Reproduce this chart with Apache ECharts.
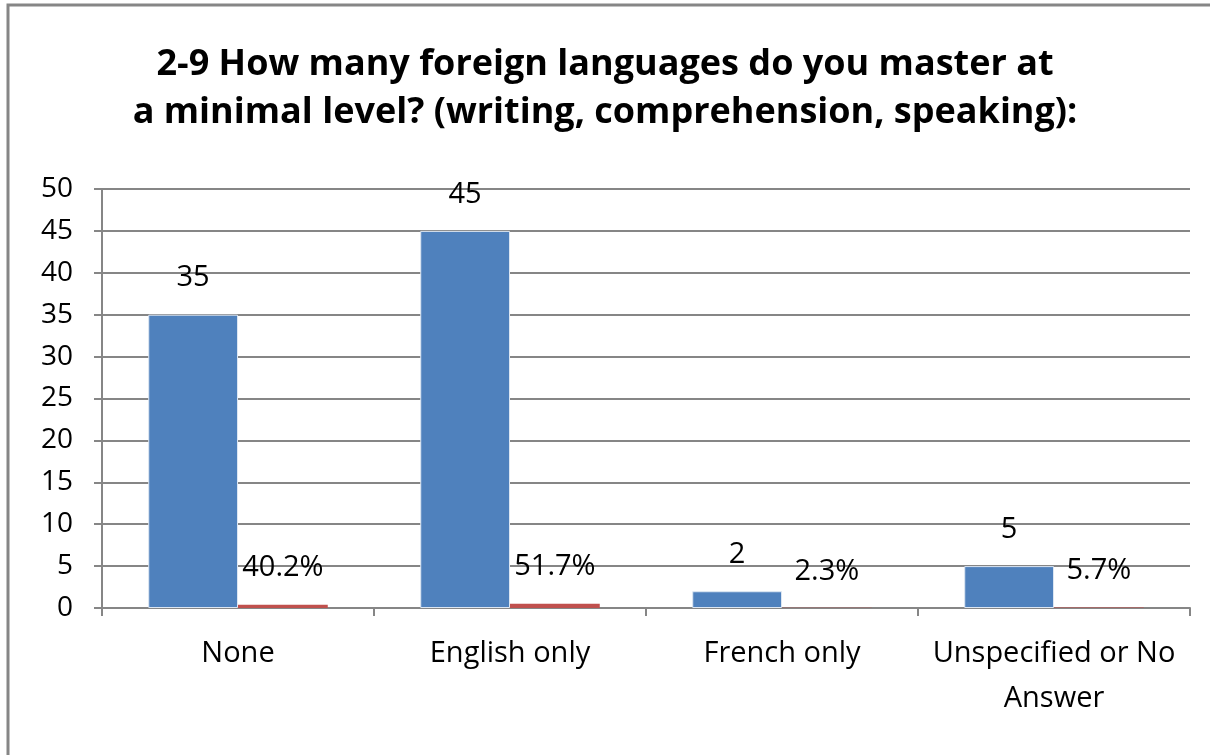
<!DOCTYPE html>
<html>
<head>
<meta charset="utf-8">
<script src="https://cdn.jsdelivr.net/npm/echarts@6/dist/echarts.min.js"></script>
<style>
  html, body { margin: 0; padding: 0; background: #fff; }
  #chart { width: 1210px; height: 755px; }
</style>
</head>
<body>
<div id="chart"></div>
<script>
// Survey question 2-9: number of foreign languages mastered
const titleText = '2-9 How many foreign languages do you master at\na minimal level? (writing, comprehension, speaking):';
const categories = ['None', 'English only', 'French only', 'Unspecified or No\nAnswer'];
const counts = [35, 45, 2, 5];
const shares = [0.402, 0.517, 0.023, 0.057];
const yMin = 0;
const yMax = 50;
const yStep = 5;

const FONT = '"Open Sans", "Noto Sans", sans-serif';
const GRID_GRAY = '#868686';

const chart = echarts.init(document.getElementById('chart'), null, { renderer: 'canvas' });

chart.setOption({
  animation: false,
  backgroundColor: '#ffffff',
  textStyle: { fontFamily: FONT, color: '#000' },
  title: {
    text: titleText,
    left: 'center',
    top: 36,
    textStyle: {
      fontFamily: FONT,
      fontWeight: 'bold',
      fontSize: 36,
      lineHeight: 48,
      color: '#000'
    }
  },
  graphic: [{
    type: 'rect',
    shape: { x: 8, y: 5, width: 1400, height: 1000 },
    style: { fill: 'none', stroke: GRID_GRAY, lineWidth: 3 },
    silent: true,
    z: 100
  }],
  grid: { left: 102, right: 20, top: 189, bottom: 147 },
  xAxis: {
    type: 'category',
    data: categories,
    axisLine: { lineStyle: { color: GRID_GRAY, width: 2 } },
    axisTick: { show: true, length: 8, lineStyle: { color: GRID_GRAY, width: 2 } },
    axisLabel: {
      color: '#000',
      fontFamily: FONT,
      fontSize: 29,
      lineHeight: 45,
      margin: 23,
      interval: 0
    }
  },
  yAxis: {
    type: 'value',
    min: yMin,
    max: yMax,
    interval: yStep,
    axisLine: { show: true, lineStyle: { color: GRID_GRAY, width: 2 } },
    axisTick: { show: true, length: 8, lineStyle: { color: GRID_GRAY, width: 2 } },
    splitLine: { show: true, lineStyle: { color: GRID_GRAY, width: 2 } },
    axisLabel: {
      color: '#000',
      fontFamily: FONT,
      fontSize: 28,
      margin: 29
    }
  },
  series: [
    {
      name: 'Count',
      type: 'bar',
      data: counts,
      barGap: '0%',
      barCategoryGap: '34%',
      itemStyle: { color: '#4F81BD', borderColor: '#dce6f2', borderWidth: 1 },
      label: {
        show: true,
        position: 'top',
        distance: 22,
        color: '#000',
        fontFamily: FONT,
        fontSize: 29,
        formatter: p => String(p.value)
      }
    },
    {
      name: 'Share',
      type: 'bar',
      data: shares,
      itemStyle: { color: '#C0504D' },
      label: {
        show: true,
        position: 'top',
        distance: 22,
        color: '#000',
        fontFamily: FONT,
        fontSize: 29,
        formatter: p => (p.value * 100).toFixed(1) + '%'
      }
    }
  ]
});
</script>
</body>
</html>
